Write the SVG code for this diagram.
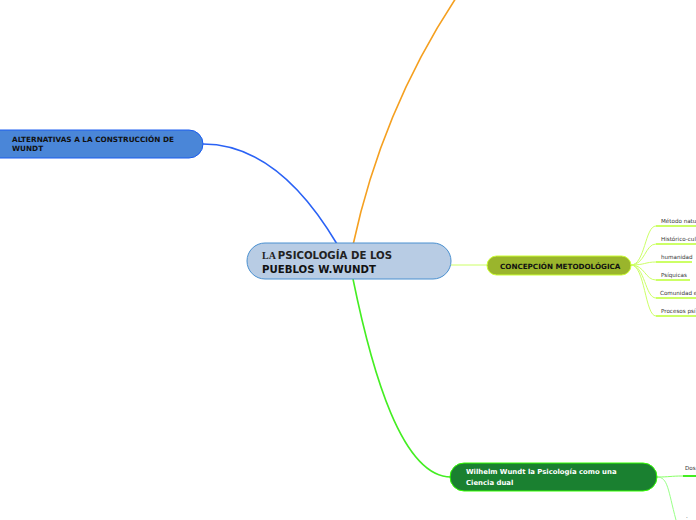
<svg xmlns="http://www.w3.org/2000/svg" width="696" height="520" viewBox="0 0 696 520">
<style>
.t{font-family:"DejaVu Sans","Liberation Sans",sans-serif;font-weight:bold}
.s{font-family:"DejaVu Sans","Liberation Sans",sans-serif;font-size:5.6px;fill:#333}
.c{fill:none}
.u{stroke:#ccff66;stroke-width:2;fill:none}
.l{stroke:#ccff66;stroke-width:1;fill:none}
</style>
<rect width="696" height="520" fill="#fff"/>
<g id="connectors">
<path class="c" d="M203,144 C262,144 305,190 337,244" stroke="#2a62f5" stroke-width="1.6"/>
<path class="c" d="M353,245 Q382,110 456,-2" stroke="#f5a020" stroke-width="1.6"/>
<path class="c" d="M353,279 C372,372 402,477 451,477" stroke="#44ee22" stroke-width="1.6"/>
<path class="l" d="M451,265 L487,265"/>
<path class="l" d="M631,265 C645,265 645,226 656,226 M631,265 C645,265 645,244 656,244 M631,265 C645,265 645,262 656,262 M631,265 C645,265 645,280 656,280 M631,265 C645,265 645,298 656,298 M631,265 C645,265 645,316 656,316"/>
<path class="c" d="M657,477 C670,477 670,476 683,476" stroke="#88ff66" stroke-width="1"/>
<path class="c" d="M657,477 C668,477 668,490 676,520" stroke="#99ff88" stroke-width="1"/>
</g>
<g id="main">
<rect x="247" y="243" width="204" height="36" rx="18" fill="#b8cce4" stroke="#4a90d0" stroke-width="1"/>
<text x="262" y="259" font-family="Liberation Serif,serif" font-weight="bold" font-size="10" fill="#222">LA <tspan class="t" font-size="10.2">PSICOLOGÍA DE LOS</tspan></text>
<text class="t" x="262" y="273" font-size="10.2" fill="#111">PUEBLOS W.WUNDT</text>
</g>
<g id="alternativas">
<rect x="-20" y="130" width="223" height="28" rx="14" fill="#4a86d8" stroke="#1a5cf0" stroke-width="1"/>
<text class="t" x="12" y="142" font-size="7.3" fill="#111">ALTERNATIVAS A LA CONSTRUCCIÓN DE</text>
<text class="t" x="12" y="151" font-size="7.3" fill="#111">WUNDT</text>
</g>
<g id="concepcion">
<rect x="487" y="256" width="144" height="19" rx="9.5" fill="#9ab52c" stroke="#ccff33" stroke-width="1"/>
<text class="t" x="500" y="269" font-size="7.2" fill="#111">CONCEPCIÓN METODOLÓGICA</text>
</g>
<g id="concepcion-children">
<path class="u" d="M656,226 H697 M656,244 H697 M656,262 H692 M656,280 H690 M656,298 H697 M656,316 H697"/>
<text class="s" x="661" y="223">Método natu</text>
<text class="s" x="661" y="241">Histórico-cul</text>
<text class="s" x="661" y="259">humanidad</text>
<text class="s" x="661" y="277">Psíquicas</text>
<text class="s" x="660" y="295" font-size="5">Comunidad e</text>
<text class="s" x="661" y="313">Procesos psí</text>
</g>
<g id="wilhelm">
<rect x="450" y="463" width="207" height="28" rx="14" fill="#1a8030" stroke="#33ff00" stroke-width="1"/>
<text class="t" x="466" y="474" font-size="6.9" fill="#fff">Wilhelm Wundt la Psicología como una</text>
<text class="t" x="466" y="485" font-size="6.9" fill="#fff">Ciencia dual</text>
</g>
<g id="wilhelm-children">
<path d="M683,476 H697" stroke="#44ee22" stroke-width="2" fill="none"/>
<text class="s" x="685" y="470" font-size="5.2">Dos</text>
<text class="s" x="686" y="518">.</text>
</g>
</svg>
